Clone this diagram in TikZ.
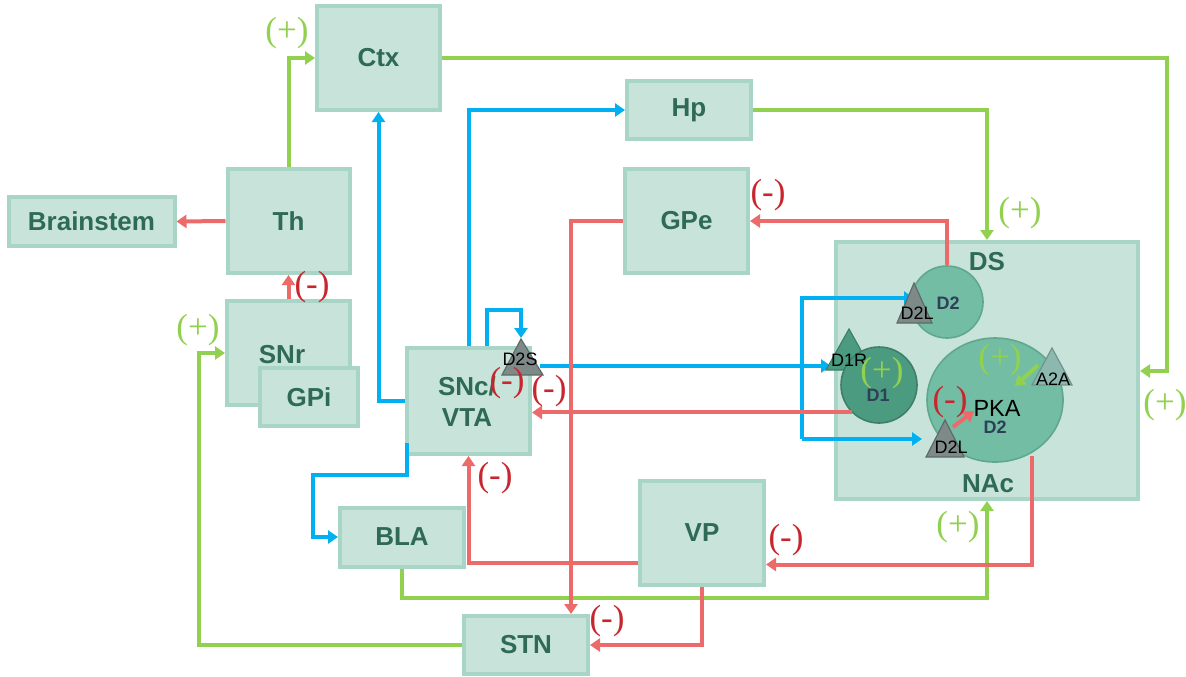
\documentclass[tikz,border=0pt]{standalone}
\usepackage{fontspec}
\setmainfont{Liberation Serif}
\setsansfont{Liberation Sans}
\usetikzlibrary{arrows.meta,shapes.geometric}
\definecolor{boxfill}{HTML}{C8E4DA}
\definecolor{boxline}{HTML}{A8D5C6}
\definecolor{txtgreen}{HTML}{2E6A56}
\definecolor{lgreen}{HTML}{92D050}
\definecolor{lblue}{HTML}{00B0F0}
\definecolor{lred}{HTML}{EC6A6A}
\definecolor{mred}{HTML}{C8262E}
\definecolor{circfill}{HTML}{73BDA5}
\definecolor{circline}{HTML}{5FA88E}
\definecolor{donefill}{HTML}{4B9B80}
\definecolor{doneline}{HTML}{3E7F69}
\definecolor{trifill}{HTML}{7D8A88}
\definecolor{triline}{HTML}{5E6B69}
\definecolor{atrifill}{HTML}{8DB8AF}
\definecolor{dnavy}{HTML}{2F3F57}
\begin{document}
\begin{tikzpicture}[x=0.5pt,y=-0.5pt,
  box/.style={draw=boxline, fill=boxfill, line width=2pt, inner sep=0pt, align=center,
    font=\sffamily\bfseries\fontsize{13}{16}\selectfont, text=txtgreen},
  lbl/.style={font=\sffamily\bfseries\fontsize{13}{16}\selectfont, text=txtgreen, inner sep=0pt},
  conn/.style={line width=2pt, -{Triangle[length=5pt,width=6.5pt]}},
  gline/.style={conn, draw=lgreen},
  bline/.style={conn, draw=lblue},
  rline/.style={conn, draw=lred},
  plus/.style={text=lgreen, font=\fontsize{17.5}{18}\selectfont, inner sep=0pt},
  minus/.style={text=mred, font=\fontsize{17.5}{18}\selectfont, inner sep=0pt},
  trilbl/.style={font=\sffamily\fontsize{9}{10}\selectfont, text=black, inner sep=0pt},
  dlbl/.style={font=\sffamily\bfseries\fontsize{9}{10}\selectfont, text=dnavy, inner sep=0pt},
  tri/.style={fill=trifill, draw=triline, line width=0.6pt},
]
\useasboundingbox (0,0) rectangle (1186,676);

% boxes
\node[box, minimum width=61.5pt, minimum height=52pt] (ctx) at (378.5,58) {Ctx};
\node[box, minimum width=62pt, minimum height=29pt] (hp) at (689,110) {Hp};
\node[box, minimum width=83pt, minimum height=24.5pt] (brain) at (91.5,221.5) {Brainstem};
\node[box, minimum width=61pt, minimum height=52pt] (th) at (288.5,221) {Th};
\node[box, minimum width=61.5pt, minimum height=52pt] (gpe) at (686.5,221) {GPe};
\node[box, minimum width=61.5pt, minimum height=52pt] (snr) at (288.5,353) {};
\node[lbl] (snrl) at (282,355) {SNr};
\node[box, minimum width=49pt, minimum height=29pt] (gpi) at (309,397) {GPi};
\node[box, minimum width=61.5pt, minimum height=53pt] (snc) at (468.5,401) {};
\node[lbl] (sncl1) at (467,386) {SNc/};
\node[lbl] (sncl2) at (467,418) {VTA};
\node[box, minimum width=62pt, minimum height=29.5pt] (bla) at (402,537) {BLA};
\node[box, minimum width=62pt, minimum height=52pt] (vp) at (702,532.5) {VP};
\node[box, minimum width=62pt, minimum height=29pt] (stn) at (526,645) {STN};
\node[box, minimum width=151pt, minimum height=128.5pt] (big) at (987,370.5) {};
\node[lbl] (dsl) at (987,262) {DS};
\node[lbl] (nacl) at (988,484) {NAc};

% coordinates
\coordinate (gr) at (1167,371);
\coordinate (gs) at (199,353);
\coordinate (lp) at (487,310);
\coordinate (d2s) at (521,338);
\coordinate (d2sr) at (540,366);
\coordinate (d1r) at (831,366);
\coordinate (bt) at (802,298);
\coordinate (bb) at (802,439);
\coordinate (d2lu) at (914,298);
\coordinate (d2ll) at (922,439);
\coordinate (bs0) at (407,443);
\coordinate (bs) at (407,475);
\coordinate (bk) at (313,537);
\coordinate (rv) at (571,221);
\coordinate (rn) at (1032,456);

% green connectors
\draw[gline] (th.north) |- (ctx.west);
\draw[gline] (ctx.east) -| (gr) -- (gr -| big.east);
\draw[gline] (hp.east) -| (big.north);
\draw[gline] (bla.south) -- ++(0,29) -| (big.south);
\draw[gline] (stn.west) -| (gs) -- (snr.west);

% blue connectors
\draw[bline] (snc.west) -| (ctx.south);
\draw[bline] (snc.north) |- (hp.west);
\draw[bline] (lp |- snc.north) -- (lp) -| (d2s);
\draw[bline] (d2sr) -- (d1r);
\draw[bline] (bb) -- (bt) -- (d2lu);
\draw[bline] (bb) -- (d2ll);
\draw[bline] (bs0) -- (bs) -| (bk) -- (bla.west);

% red connectors
\draw[rline] (th.west) -- (brain.east);
\draw[rline] (snr.north) -- (th.south);
\draw[rline] (gpe.west) -- (rv) -- (rv |- stn.north);
\draw[rline] ([yshift=-15pt]vp.west) -| (snc.south);
\draw[rline] (rn) |- ([yshift=-16pt]vp.east);
\draw[rline] (vp.south) |- (stn.east);

% circles
\node[circle, fill=circfill, draw=circline, line width=0.8pt, minimum size=36pt, inner sep=0pt] (dsc) at (947,302) {};
\draw[rline] (dsc.north) |- (gpe.east);
\draw[tri, fill=donefill, draw=doneline] (826,370) -- (849,329) -- (872,370) -- cycle;
\node[circle, fill=donefill, draw=doneline, line width=0.8pt, minimum size=38pt, inner sep=0pt] (d1) at (879,385) {};
\draw[rline] (d1.south west) -- (d1.south west -| snc.east);
\node[ellipse, fill=circfill, draw=circline, line width=0.8pt, minimum width=68pt, minimum height=62pt, inner sep=0pt] (nac) at (995,400) {};

% triangles
\draw[tri] (502,375) -- (521,339) -- (543,375) -- cycle;
\draw[tri] (897,323) -- (914,283) -- (932,323) -- cycle;
\draw[tri] (926,457) -- (945,420) -- (964,457) -- cycle;
\draw[tri, fill=atrifill, draw=atrifill!80!black] (1032,385) -- (1052,348) -- (1072,385) -- cycle;

% inner arrows
\draw[line width=2pt, draw=lgreen, -{Triangle[length=5pt,width=6.5pt]}] (1038,365) -- (1015,386);
\draw[line width=2pt, draw=lred, -{Triangle[length=5pt,width=6.5pt]}] (953,427) -- (974,411);

% triangle labels
\node[trilbl] (t1) at (520,359) {D2S};
\node[trilbl] (t2) at (917,313) {D2L};
\node[trilbl] (t3) at (849,360) {D1R};
\node[trilbl] (t4) at (951,447) {D2L};
\node[trilbl] (t5) at (1053,379) {A2A};
\node[dlbl] (c1) at (948,303) {D2};
\node[dlbl] (c2) at (878,395) {D1};
\node[dlbl] (c3) at (995,427) {D2};
\node[font=\sffamily\fontsize{11.7}{13}\selectfont, inner sep=0pt] (pka) at (997,408) {PKA};

% signs
\node[plus] (p1) at (287,33) {(+)};
\node[plus] (p2) at (1020,213) {(+)};
\node[plus] (p3) at (1165,405) {(+)};
\node[plus] (p4) at (958,527) {(+)};
\node[plus] (p5) at (198,330) {(+)};
\node[plus] (p6) at (882,373) {(+)};
\node[plus] (p7) at (1000,360) {(+)};
\node[minus] (m1) at (312,287) {(-)};
\node[minus] (m2) at (768,195) {(-)};
\node[minus] (m3) at (507,383) {(-)};
\node[minus] (m4) at (549,391) {(-)};
\node[minus] (m5) at (495,478) {(-)};
\node[minus] (m6) at (786,540) {(-)};
\node[minus] (m7) at (607,621) {(-)};
\node[minus] (m8) at (950,402) {(-)};
\end{tikzpicture}
\end{document}
